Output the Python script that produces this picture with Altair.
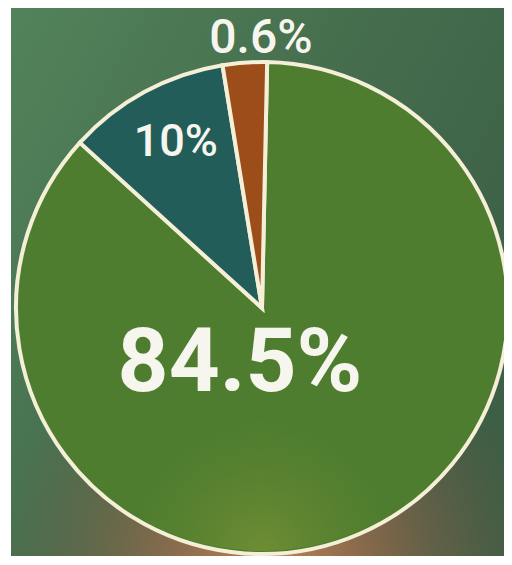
import altair as alt
import pandas as pd
import math

# Data
labels = ["84.5%", "10%", "0.6%"]
slice_share = [86.4, 10.7, 2.9]       # visible arc share of the circle (%)
slice_colors = ["#4e7d2f", "#235d5a", "#9c4d1a"]
order_idx = [0, 1, 2]

W, H = 496, 548
CX, CY, R = 251, 300, 246
START = math.radians(1.2)

df = pd.DataFrame({"label": labels, "share": slice_share, "idx": order_idx})

theta_scale = alt.Scale(domain=[0, 100], range=[START, START + 2 * math.pi])
color_scale = alt.Scale(domain=labels, range=slice_colors)

bg_df = pd.DataFrame({"a": [0]})

bg = alt.Chart(bg_df).mark_rect(
    color=alt.LinearGradient(
        gradient="linear",
        stops=[alt.GradientStop(color="#52835a", offset=0),
               alt.GradientStop(color="#466f4e", offset=0.5),
               alt.GradientStop(color="#3c5f46", offset=1)],
        x1=0, x2=1, y1=0, y2=0.6,
    )
).encode(x=alt.value(0), x2=alt.value(W), y=alt.value(0), y2=alt.value(H))

glow = alt.Chart(bg_df).mark_rect(
    color=alt.RadialGradient(
        gradient="radial",
        stops=[alt.GradientStop(color="rgba(205,135,90,0.95)", offset=0),
               alt.GradientStop(color="rgba(170,105,75,0.55)", offset=0.45),
               alt.GradientStop(color="rgba(120,80,60,0)", offset=1)],
        x1=0.52, y1=1.03, r1=0, x2=0.52, y2=1.03, r2=0.5,
    )
).encode(x=alt.value(0), x2=alt.value(W), y=alt.value(0), y2=alt.value(H))

pie = alt.Chart(df).mark_arc(
    outerRadius=R, stroke="#f4efd6", strokeWidth=4, strokeJoin="miter"
).encode(
    theta=alt.Theta("share:Q", stack=True, scale=theta_scale),
    color=alt.Color("label:N", scale=color_scale, legend=None),
    order=alt.Order("idx:Q"),
    x=alt.value(CX), y=alt.value(CY),
)

pie_glow = alt.Chart(bg_df).mark_arc(
    theta=0, theta2=2 * math.pi, outerRadius=R - 3,
    color=alt.RadialGradient(
        gradient="radial",
        stops=[alt.GradientStop(color="rgba(160,165,60,0.4)", offset=0),
               alt.GradientStop(color="rgba(120,140,50,0)", offset=1)],
        x1=0.5, y1=1.0, r1=0, x2=0.5, y2=1.0, r2=0.28,
    ),
).encode(x=alt.value(CX), y=alt.value(CY))

base_text = alt.Chart(df).transform_window(
    cum="sum(share)", sort=[alt.SortField("idx")]
).transform_calculate(mid="datum.cum - datum.share / 2")

FONT = "Roboto, sans-serif"

def label_layer(lbl, radius, dx, dy, size, weight):
    return base_text.transform_filter(alt.datum.label == lbl).mark_text(
        radius=radius, dx=dx, dy=dy, fontSize=size, fontWeight=weight,
        font=FONT, color="#f7f6ee", align="center", baseline="middle",
    ).encode(
        theta=alt.Theta("mid:Q", stack=None, scale=theta_scale),
        text="label:N",
        x=alt.value(CX), y=alt.value(CY),
    )

t_big = label_layer("84.5%", 0, -22, 56, 89, "bold")
t_teal = label_layer("10%", 189, 4, 0, 45, 500)
t_brown = label_layer("0.6%", 272, 18, 2, 48, 500)

chart = alt.layer(bg, glow, pie, pie_glow, t_big, t_teal, t_brown).properties(
    width=W, height=H, padding=0,
    autosize=alt.AutoSizeParams(type="fit", contains="padding"),
).configure_view(stroke=None)

chart.save("out.html", embed_options={"renderer": "svg", "actions": False})
